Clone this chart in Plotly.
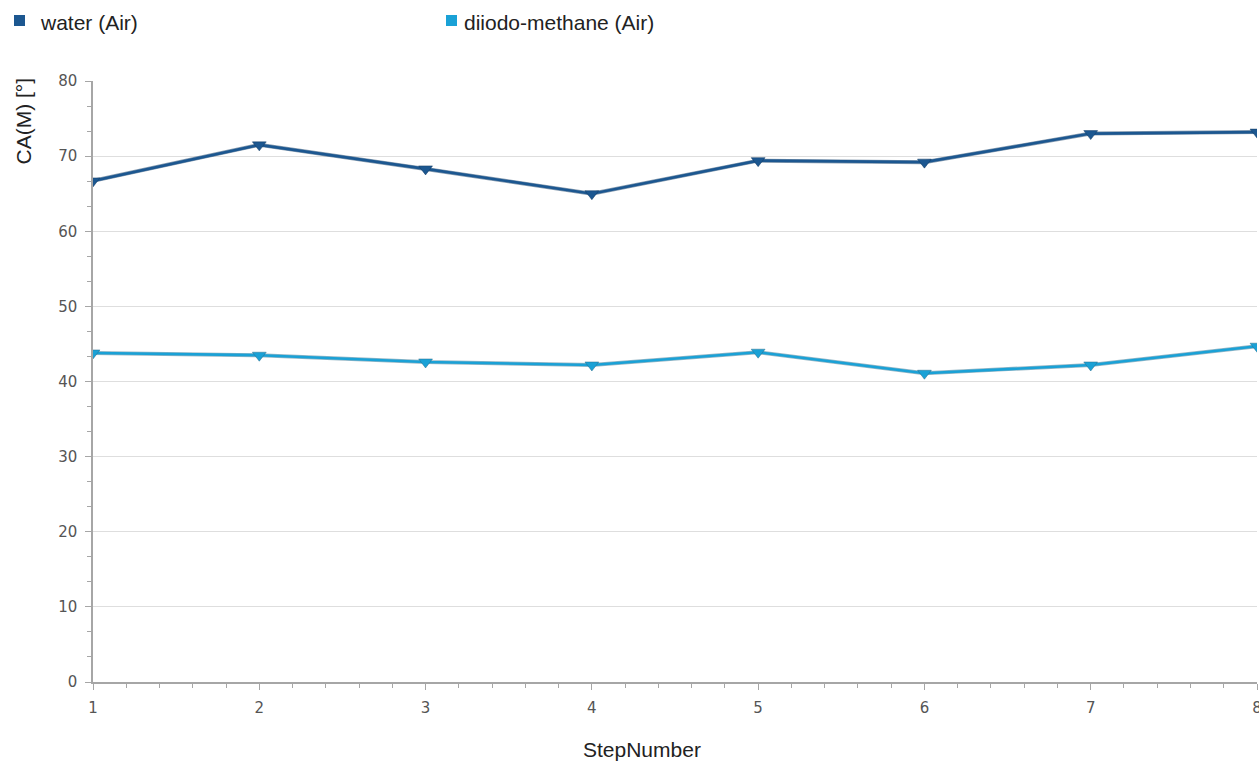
import plotly.graph_objects as go

step_number = [1, 2, 3, 4, 5, 6, 7, 8]
water_air = [66.7, 71.5, 68.3, 65.0, 69.4, 69.2, 73.0, 73.2]
diiodo_methane_air = [43.8, 43.5, 42.6, 42.2, 43.9, 41.1, 42.2, 44.7]

series = [
    ("water (Air)", water_air, "#1c5790", "#123b63"),
    ("diiodo-methane (Air)", diiodo_methane_air, "#1aa1d6", "#2d6f8c"),
]

W, H = 1259, 762
M_L, M_R, M_T, M_B = 93, 2, 81, 80
PW, PH = W - M_L - M_R, H - M_T - M_B
LABEL_FONT = dict(family="Liberation Sans", size=21, color="#222222")


def px_x(px):
    return (px - M_L) / PW


def px_y(py):
    return (H - M_B - py) / PH


fig = go.Figure()

for name, values, color, shade in series:
    # darker underlay gives the line its soft edge
    fig.add_trace(go.Scatter(
        x=step_number, y=values, mode="lines",
        line=dict(color=shade, width=4), opacity=0.5,
        showlegend=False, hoverinfo="skip",
    ))
    fig.add_trace(go.Scatter(
        x=step_number, y=values, mode="lines+markers", name=name,
        line=dict(color=color, width=2.6),
        marker=dict(symbol="triangle-down", size=12, color=color,
                    line=dict(color=shade, width=0.5)),
        showlegend=False,
    ))

# legend: square swatch + label per series
legend_pos = [(14, 38), (446, 462)]
for (name, _, color, _), (sx, tx) in zip(series, legend_pos):
    fig.add_shape(type="rect", xref="paper", yref="paper",
                  x0=px_x(sx), x1=px_x(sx + 11), y0=px_y(26), y1=px_y(15),
                  fillcolor=color, line=dict(width=0))
    fig.add_annotation(text=name, xref="paper", yref="paper",
                       x=px_x(tx), y=px_y(22), xanchor="left", yanchor="middle",
                       showarrow=False, font=LABEL_FONT)

# axis titles
fig.add_annotation(text="CA(M) [°]", xref="paper", yref="paper",
                   x=px_x(23), y=px_y(76), xanchor="center", yanchor="top",
                   textangle=-90, showarrow=False, font=LABEL_FONT)
fig.add_annotation(text="StepNumber", xref="paper", yref="paper",
                   x=px_x(642), y=px_y(750), xanchor="center", yanchor="middle",
                   showarrow=False, font=LABEL_FONT)

axis_common = dict(
    showline=True, linecolor="#a6a6a6", linewidth=1.5,
    ticks="outside", tickcolor="#a6a6a6", ticklen=6, tickwidth=1,
    tickfont=dict(family="DejaVu Sans", size=15, color="#555555"),
    zeroline=False, automargin=False, ticklabeloverflow="allow",
    ticklabelstandoff=5,
)

fig.update_xaxes(
    range=[1, 8], dtick=1, tick0=1, showgrid=False,
    minor=dict(dtick=0.2, ticks="outside", ticklen=4, tickcolor="#a6a6a6"),
    **axis_common,
)
fig.update_yaxes(
    range=[0, 80], dtick=10, tick0=0, showgrid=True, gridcolor="#dedede", gridwidth=1,
    minor=dict(dtick=10 / 3, ticks="outside", ticklen=4, tickcolor="#a6a6a6", showgrid=False),
    **axis_common,
)

fig.update_layout(
    width=W, height=H,
    margin=dict(l=M_L, r=M_R, t=M_T, b=M_B),
    plot_bgcolor="white", paper_bgcolor="white",
    showlegend=False,
)

fig.write_html("out.html")
